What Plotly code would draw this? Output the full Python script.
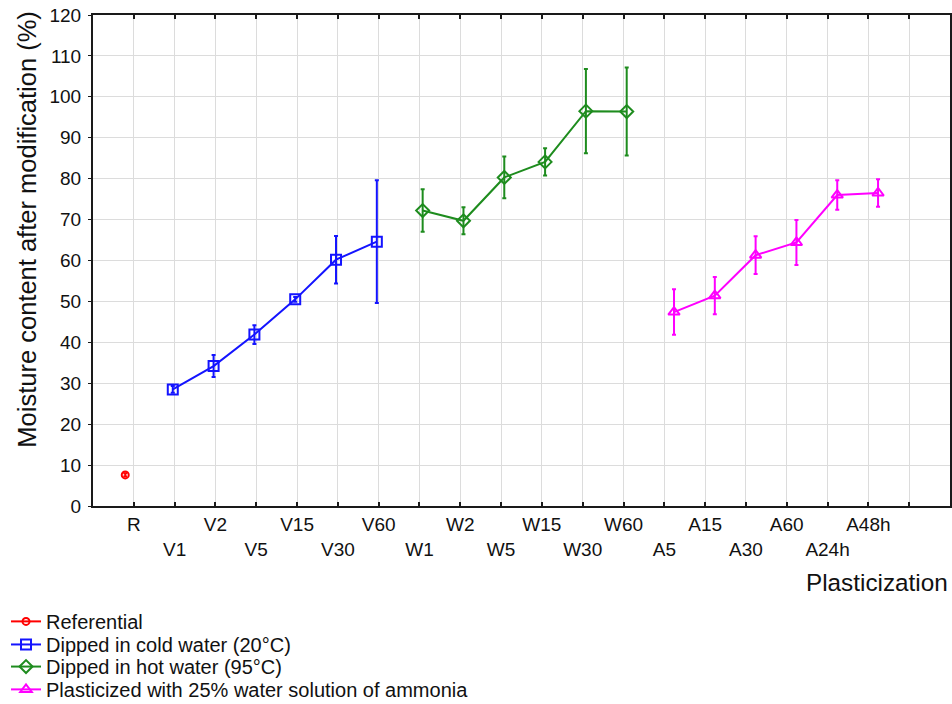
import plotly.graph_objects as go

# ---- data ----
categories = ["R", "V1", "V2", "V5", "V15", "V30", "V60",
              "W1", "W2", "W5", "W15", "W30", "W60",
              "A5", "A15", "A30", "A60", "A24h", "A48h"]

ref_labels = ["R"]
ref_vals = [7.6]
ref_err = [0.4]

cold_labels = ["V1", "V2", "V5", "V15", "V30", "V60"]
cold_vals = [28.5, 34.2, 41.9, 50.5, 60.2, 64.6]
cold_err = [0.8, 2.7, 2.3, 0.6, 5.8, 15.0]

hot_labels = ["W1", "W2", "W5", "W15", "W30", "W60"]
hot_vals = [72.2, 69.7, 80.3, 84.1, 96.5, 96.4]
hot_err = [5.2, 3.3, 5.1, 3.35, 10.3, 10.75]

amm_labels = ["A5", "A15", "A30", "A60", "A24h", "A48h"]
amm_vals = [47.4, 51.4, 61.3, 64.4, 76.0, 76.5]
amm_err = [5.55, 4.55, 4.6, 5.5, 3.6, 3.35]

y_ticks = list(range(0, 121, 10))

FONT = "Liberation Sans, Arial, sans-serif"
TXT = "#111111"

series = [
    ("Referential", ref_labels, ref_vals, ref_err, "#ff0000", "circle-open", 7, -0.21),
    ("Dipped in cold water (20°C)", cold_labels, cold_vals, cold_err, "#1414ff", "square-open", 10, -0.045),
    ("Dipped in hot water (95°C)", hot_labels, hot_vals, hot_err, "#1e8c1e", "diamond-open", 10, 0.078),
    ("Plasticized with 25% water solution of ammonia", amm_labels, amm_vals, amm_err, "#ff00ff", "triangle-up-open", 10, 0.237),
]

pos = {c: i + 1 for i, c in enumerate(categories)}
legend_ids = ["legend", "legend2", "legend3", "legend4"]
legend_y = [-0.235, -0.282, -0.327, -0.3735]

fig = go.Figure()
for k, (name, labels, vals, errs, color, sym, size, off) in enumerate(series):
    fig.add_trace(go.Scatter(
        x=[pos[l] + off for l in labels],
        y=vals,
        mode="lines+markers",
        name=name,
        legend=legend_ids[k],
        line=dict(color=color, width=2),
        marker=dict(symbol=sym, size=size, color=color, line=dict(color=color, width=2)),
        error_y=dict(type="data", array=errs, visible=True, color=color, thickness=2, width=2),
        hoverinfo="x+y",
    ))

n = len(categories)
tickvals = list(range(0, n + 3))
ticktext = [""] + [c if i % 2 == 0 else " <br>" + c for i, c in enumerate(categories)] + ["", ""]

legend_layouts = {}
for k, lid in enumerate(legend_ids):
    legend_layouts[lid] = dict(
        x=-0.1015, y=legend_y[k], xanchor="left", yanchor="middle",
        font=dict(family=FONT, size=20, color=TXT),
        bgcolor="rgba(0,0,0,0)", itemwidth=30,
    )

fig.update_layout(
    width=952, height=704,
    margin=dict(l=93, r=2, t=15, b=198, autoexpand=False),
    paper_bgcolor="white", plot_bgcolor="white",
    font=dict(family=FONT, size=19, color=TXT),
    showlegend=True,
    xaxis=dict(
        range=[0, n + 2], tickmode="array", tickvals=tickvals, ticktext=ticktext,
        tickangle=0, automargin=False,
        showgrid=True, gridcolor="#dcdcdc", gridwidth=1,
        showline=True, linecolor="#1a1a1a", linewidth=2, mirror="ticks",
        ticks="inside", ticklen=4, tickwidth=2, tickcolor="#1a1a1a",
        zeroline=False, tickfont=dict(size=19),
    ),
    yaxis=dict(
        range=[0, 120], tickmode="array", tickvals=y_ticks, automargin=False,
        showgrid=True, gridcolor="#dcdcdc", gridwidth=1,
        showline=True, linecolor="#1a1a1a", linewidth=2, mirror=True,
        ticks="outside", ticklen=3, tickwidth=1, tickcolor="#1a1a1a",
        ticklabelstandoff=3,
        zeroline=False, tickfont=dict(size=19),
    ),
    yaxis2=dict(
        overlaying="y", side="right", range=[0, 13], dtick=1, automargin=False,
        showticklabels=False, showgrid=False, zeroline=False,
        ticks="inside", ticklen=4, tickwidth=2, tickcolor="#1a1a1a",
        showline=False,
    ),
    annotations=[
        dict(text="Moisture content after modification (%)", textangle=-90,
             xref="paper", yref="paper", x=-0.0775, y=0.564, xanchor="center", yanchor="middle",
             showarrow=False, font=dict(family=FONT, size=25.5, color=TXT)),
        dict(text="Plasticization", xref="paper", yref="paper", x=1.0, y=-0.1555,
             xanchor="right", yanchor="middle", showarrow=False,
             font=dict(family=FONT, size=24.3, color=TXT)),
    ],
    **legend_layouts,
)

fig.write_html("out.html", config={"displayModeBar": False},
               post_script="document.body.style.margin='0';")
